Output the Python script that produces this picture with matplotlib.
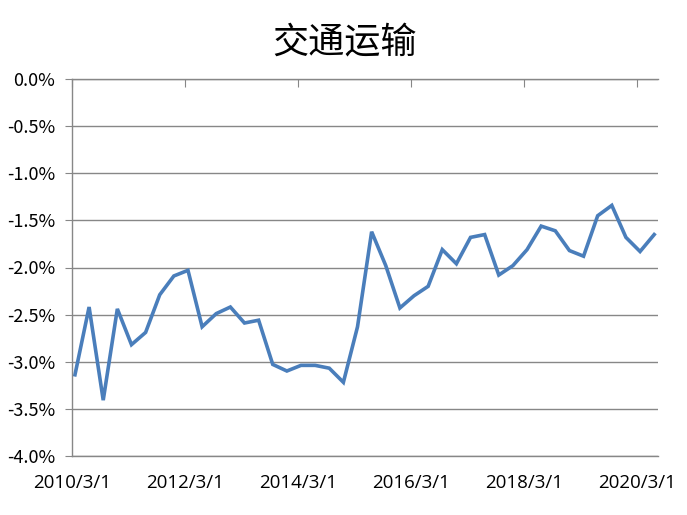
import matplotlib
matplotlib.use("Agg")
import matplotlib.pyplot as plt
import numpy as np

# Quarterly values (%), 2010Q1 .. 2020Q2
values = [-3.14, -2.42, -3.41, -2.44, -2.82, -2.69, -2.29, -2.09, -2.03, -2.63,
          -2.49, -2.42, -2.59, -2.56, -3.03, -3.10, -3.04, -3.04, -3.07, -3.22,
          -2.63, -1.62, -1.98, -2.43, -2.30, -2.20, -1.81, -1.96, -1.68, -1.65,
          -2.08, -1.98, -1.81, -1.56, -1.61, -1.82, -1.88, -1.45, -1.34, -1.68,
          -1.83, -1.65]
tick_labels = ["2010/3/1", "2012/3/1", "2014/3/1", "2016/3/1", "2018/3/1", "2020/3/1"]
ytick_values = [0.0, -0.5, -1.0, -1.5, -2.0, -2.5, -3.0, -3.5, -4.0]
title = "交通运输"

plt.rcParams['font.family'] = ['Noto Sans CJK SC', 'DejaVu Sans']

fig = plt.figure(figsize=(6.87, 5.15), dpi=100)
ax = fig.add_axes([72/687, 1 - 455.7/515, (658-72)/687, (455.7-79.3)/515])

x = np.arange(len(values))
ax.plot(x, values, color='#4a7ebb', lw=2.6, solid_joinstyle='miter')

ax.set_ylim(-4.0, 0.0)
ax.set_xlim(-0.21, 41.27)
ax.set_yticks(ytick_values)
ax.set_yticklabels([f"{v:.1f}%" for v in ytick_values], family=['Noto Sans CJK SC'],
                   fontsize=13, fontweight='light')
ax.yaxis.grid(True, color='#878787', lw=1.0)
ax.set_axisbelow(True)

xt = [8 * k - 0.19 for k in range(len(tick_labels))]
ax.set_xticks(xt)
ax.set_xticklabels(tick_labels, family=['Open Sans'], fontsize=13.5)
ax.tick_params(axis='x', top=True, bottom=False, labeltop=False, labelbottom=True,
               direction='in', length=6, color='#878787', pad=13)
ax.tick_params(axis='y', direction='out', length=5, color='#878787', pad=7)

for s in ['right']:
    ax.spines[s].set_visible(False)
for s in ['left', 'top', 'bottom']:
    ax.spines[s].set_color('#878787')
    ax.spines[s].set_linewidth(1.0)

fig.text(345/687, 1 - 42/515, title, ha='center', va='center', fontsize=26,
         fontweight='medium', family=['Noto Sans CJK SC'])

fig.savefig("out.png", dpi=100)
